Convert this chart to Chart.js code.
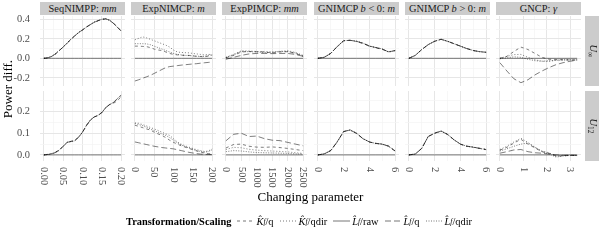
<!DOCTYPE html>
<html>
<head>
<meta charset="utf-8">
<script src="https://cdn.jsdelivr.net/npm/chart.js@4.4.0/dist/chart.umd.min.js"></script>
<style>
  body { margin: 0; background: #fff; font-family: 'Liberation Serif', serif; }
  #wrap { position: relative; width: 600px; height: 240px; overflow: hidden; }
  #wrap canvas { position: absolute; }
  .strip { position: absolute; background: #cccccc; color: #1a1a1a; font-size: 10.4px;
           text-align: center; line-height: 13px; height: 13px; white-space: nowrap; }
  .rstrip { position: absolute; background: #cccccc; color: #1a1a1a; font-size: 10.4px; }
  .rstrip span, .rot span { position: absolute; left: 50%; top: 50%; white-space: nowrap; }
  .rstrip span { transform: translate(-50%, -50%) rotate(90deg); }
  #ytitle { position: absolute; left: 0; top: 16px; width: 16px; height: 145px; font-size: 13px; color: #000; }
  #ytitle span { transform: translate(-50%, -50%) rotate(-90deg); }
  #xtitle { position: absolute; left: 40px; width: 541px; top: 189px; text-align: center; font-size: 13px; }
  #legend { position: absolute; left: 126px; top: 213px; height: 16px; display: flex; align-items: center;
            font-size: 10.4px; white-space: nowrap; }
  #legend b { margin-right: 6px; }
  #legend .item { display: flex; align-items: center; margin-right: 6px; }
  #legend svg { margin-right: 2px; }
  sub { font-size: 7.5px; vertical-align: -2px; }
</style>
</head>
<body>
<div id="wrap"></div>
<script>
// ---- x values per facet column ----
const seqMM   = [0, 0.01, 0.02, 0.03, 0.04, 0.05, 0.06, 0.07, 0.08, 0.09, 0.10, 0.11, 0.12, 0.13, 0.14, 0.15, 0.16, 0.17, 0.18, 0.19, 0.20];
const expM    = [0, 10, 20, 30, 40, 50, 60, 70, 80, 90, 100, 110, 120, 130, 140, 150, 160, 170, 180, 190, 200];
const pimMM   = [0, 250, 500, 750, 1000, 1250, 1500, 1750, 2000, 2250, 2500];
const gniM    = [0, 0.5, 1, 1.5, 2, 2.5, 3, 3.5, 4, 4.5, 5, 5.5, 6];
const gammaG  = [0, 0.3, 0.6, 0.9, 1.2, 1.5, 1.8, 2.1, 2.4, 2.7, 3.0, 3.3];

// ---- L_f/raw is the reference, so its difference is 0 ----
const seqRaw   = [0, 0, 0, 0, 0, 0, 0, 0, 0, 0, 0, 0, 0, 0, 0, 0, 0, 0, 0, 0, 0];
const expRaw   = [0, 0, 0, 0, 0, 0, 0, 0, 0, 0, 0, 0, 0, 0, 0, 0, 0, 0, 0, 0, 0];
const pimRaw   = [0, 0, 0, 0, 0, 0, 0, 0, 0, 0, 0];
const gniRaw   = [0, 0, 0, 0, 0, 0, 0, 0, 0, 0, 0, 0, 0];
const gammaRaw = [0, 0, 0, 0, 0, 0, 0, 0, 0, 0, 0, 0];

// ---- SeqNIMPP ----
const seqInfKq    = [0, 0.004, 0.018, 0.044, 0.079, 0.117, 0.157, 0.194, 0.232, 0.263, 0.292, 0.318, 0.347, 0.368, 0.387, 0.398, 0.404, 0.392, 0.362, 0.322, 0.279];
const seqInfKqdir = [0, 0.006, 0.021, 0.047, 0.082, 0.114, 0.153, 0.197, 0.228, 0.267, 0.289, 0.323, 0.343, 0.372, 0.383, 0.402, 0.407, 0.388, 0.358, 0.318, 0.282];
const seqInfLq    = [0, 0.005, 0.019, 0.045, 0.080, 0.116, 0.154, 0.193, 0.231, 0.264, 0.291, 0.321, 0.346, 0.369, 0.386, 0.399, 0.405, 0.391, 0.360, 0.321, 0.280];
const seqInfLqdir = [0, 0.005, 0.020, 0.046, 0.081, 0.115, 0.156, 0.196, 0.229, 0.266, 0.290, 0.319, 0.344, 0.371, 0.384, 0.401, 0.406, 0.389, 0.359, 0.319, 0.281];
const seq12Kq     = [0, 0.002, 0.006, 0.013, 0.023, 0.041, 0.057, 0.063, 0.067, 0.083, 0.104, 0.136, 0.161, 0.174, 0.183, 0.196, 0.217, 0.233, 0.238, 0.250, 0.268];
const seq12Kqdir  = [0, 0.003, 0.005, 0.012, 0.021, 0.039, 0.059, 0.061, 0.065, 0.081, 0.106, 0.134, 0.159, 0.176, 0.181, 0.194, 0.219, 0.231, 0.243, 0.260, 0.277];
const seq12Lq     = [0, 0.002, 0.004, 0.011, 0.022, 0.040, 0.058, 0.062, 0.066, 0.082, 0.105, 0.135, 0.160, 0.175, 0.182, 0.195, 0.218, 0.232, 0.242, 0.258, 0.275];
const seq12Lqdir  = [0, 0.002, 0.005, 0.012, 0.022, 0.040, 0.058, 0.062, 0.066, 0.082, 0.105, 0.136, 0.160, 0.175, 0.183, 0.196, 0.219, 0.232, 0.242, 0.259, 0.276];

// ---- ExpNIMCP ----
const expInfKq    = [0.125, 0.125, 0.122, 0.120, 0.110, 0.095, 0.085, 0.080, 0.065, 0.050, 0.040, 0.035, 0.032, 0.030, 0.030, 0.025, 0.020, 0.018, 0.016, 0.022, 0.030];
const expInfKqdir = [0.190, 0.205, 0.220, 0.210, 0.195, 0.180, 0.165, 0.150, 0.135, 0.115, 0.085, 0.065, 0.060, 0.058, 0.056, 0.050, 0.045, 0.040, 0.035, 0.040, 0.038];
const expInfLq    = [-0.233, -0.220, -0.205, -0.190, -0.175, -0.155, -0.135, -0.115, -0.095, -0.085, -0.080, -0.075, -0.070, -0.066, -0.062, -0.058, -0.055, -0.050, -0.046, -0.042, -0.038];
const expInfLqdir = [0.150, 0.150, 0.150, 0.148, 0.140, 0.125, 0.110, 0.095, 0.080, 0.065, 0.050, 0.040, 0.035, 0.030, 0.028, 0.025, 0.022, 0.020, 0.020, 0.030, 0.037];
const exp12Kq     = [0.137, 0.132, 0.126, 0.120, 0.115, 0.105, 0.097, 0.090, 0.080, 0.068, 0.058, 0.050, 0.042, 0.036, 0.030, 0.024, 0.018, 0.013, 0.009, 0.006, 0.005];
const exp12Kqdir  = [0.148, 0.146, 0.140, 0.134, 0.127, 0.120, 0.113, 0.105, 0.097, 0.090, 0.075, 0.060, 0.050, 0.042, 0.036, 0.030, 0.024, 0.020, 0.016, 0.018, 0.028];
const exp12Lq     = [0.060, 0.056, 0.052, 0.048, 0.044, 0.040, 0.037, 0.034, 0.032, 0.030, 0.028, 0.024, 0.020, 0.016, 0.012, 0.009, 0.006, 0.004, 0.003, 0.002, 0.002];
const exp12Lqdir  = [0.145, 0.140, 0.135, 0.128, 0.120, 0.112, 0.105, 0.097, 0.090, 0.080, 0.068, 0.056, 0.046, 0.038, 0.032, 0.026, 0.020, 0.016, 0.013, 0.015, 0.024];

// ---- ExpPIMCP ----
const pimInfKq    = [0.005, 0.030, 0.065, 0.070, 0.068, 0.065, 0.055, 0.065, 0.068, 0.050, 0.020];
const pimInfKqdir = [0.010, 0.040, 0.078, 0.075, 0.070, 0.068, 0.065, 0.072, 0.078, 0.060, 0.030];
const pimInfLq    = [-0.010, 0.010, 0.030, 0.045, 0.050, 0.050, 0.048, 0.050, 0.050, 0.040, 0.020];
const pimInfLqdir = [0.008, 0.035, 0.070, 0.068, 0.064, 0.060, 0.062, 0.070, 0.070, 0.055, 0.025];
const pim12Kq     = [0.032, 0.048, 0.050, 0.040, 0.036, 0.035, 0.037, 0.034, 0.030, 0.025, 0.020];
const pim12Kqdir  = [0.025, 0.035, 0.033, 0.026, 0.022, 0.020, 0.018, 0.016, 0.014, 0.010, 0.007];
const pim12Lq     = [0.065, 0.095, 0.100, 0.085, 0.087, 0.075, 0.068, 0.066, 0.058, 0.050, 0.042];
const pim12Lqdir  = [0.015, 0.020, 0.018, 0.014, 0.011, 0.010, 0.009, 0.008, 0.007, 0.005, 0.004];

// ---- GNIMCP b < 0 ----
const gnegInfKq    = [0, 0.012, 0.052, 0.118, 0.178, 0.186, 0.172, 0.152, 0.128, 0.108, 0.092, 0.068, 0.078];
const gnegInfKqdir = [0, 0.010, 0.049, 0.122, 0.182, 0.183, 0.177, 0.157, 0.123, 0.112, 0.097, 0.062, 0.082];
const gnegInfLq    = [0, 0.011, 0.050, 0.120, 0.180, 0.185, 0.174, 0.154, 0.126, 0.110, 0.094, 0.066, 0.079];
const gnegInfLqdir = [0, 0.010, 0.051, 0.121, 0.181, 0.184, 0.176, 0.156, 0.124, 0.111, 0.096, 0.064, 0.081];
const gneg12Kq     = [0, 0.005, 0.021, 0.061, 0.107, 0.116, 0.099, 0.076, 0.059, 0.054, 0.049, 0.041, 0.017];
const gneg12Kqdir  = [0, 0.006, 0.019, 0.059, 0.109, 0.114, 0.101, 0.074, 0.061, 0.052, 0.051, 0.039, 0.019];
const gneg12Lq     = [0, 0.005, 0.020, 0.060, 0.108, 0.115, 0.100, 0.075, 0.060, 0.053, 0.050, 0.040, 0.018];
const gneg12Lqdir  = [0, 0.004, 0.020, 0.060, 0.108, 0.115, 0.100, 0.075, 0.060, 0.053, 0.050, 0.040, 0.018];

// ---- GNIMCP b > 0 ----
const gposInfKq    = [0, 0.031, 0.089, 0.141, 0.174, 0.196, 0.174, 0.151, 0.124, 0.101, 0.079, 0.069, 0.061];
const gposInfKqdir = [0, 0.029, 0.091, 0.139, 0.176, 0.194, 0.176, 0.149, 0.126, 0.099, 0.081, 0.067, 0.063];
const gposInfLq    = [0, 0.030, 0.090, 0.140, 0.175, 0.195, 0.175, 0.150, 0.125, 0.100, 0.080, 0.068, 0.062];
const gposInfLqdir = [0, 0.030, 0.090, 0.140, 0.175, 0.195, 0.175, 0.150, 0.125, 0.100, 0.080, 0.068, 0.062];
const gpos12Kq     = [0, 0.004, 0.031, 0.084, 0.101, 0.111, 0.094, 0.071, 0.049, 0.041, 0.035, 0.031, 0.024];
const gpos12Kqdir  = [0, 0.005, 0.029, 0.086, 0.099, 0.109, 0.096, 0.069, 0.051, 0.039, 0.037, 0.029, 0.026];
const gpos12Lq     = [0, 0.004, 0.030, 0.085, 0.100, 0.110, 0.095, 0.070, 0.050, 0.040, 0.036, 0.030, 0.025];
const gpos12Lqdir  = [0, 0.004, 0.030, 0.085, 0.100, 0.110, 0.095, 0.070, 0.050, 0.040, 0.036, 0.030, 0.025];

// ---- GNCP ----
const gncpInfKq    = [0, 0.020, 0.070, 0.115, 0.090, 0.050, 0.010, -0.010, -0.012, -0.015, -0.018, -0.020];
const gncpInfKqdir = [0, 0.020, 0.038, 0.040, 0.010, -0.015, -0.030, -0.032, -0.020, -0.015, -0.015, -0.015];
const gncpInfLq    = [-0.045, -0.130, -0.210, -0.250, -0.220, -0.170, -0.130, -0.095, -0.065, -0.045, -0.030, -0.020];
const gncpInfLqdir = [-0.005, 0.005, 0.015, 0.010, -0.010, -0.025, -0.030, -0.025, -0.020, -0.018, -0.016, -0.015];
const gncp12Kq     = [0.022, 0.035, 0.055, 0.072, 0.050, 0.032, 0.015, 0.008, -0.005, -0.004, -0.002, -0.003];
const gncp12Kqdir  = [0.025, 0.040, 0.060, 0.077, 0.058, 0.035, 0.018, 0.010, -0.006, -0.003, -0.002, -0.003];
const gncp12Lq     = [0.008, 0.015, 0.023, 0.025, 0.015, 0.010, 0.008, 0.004, 0.000, -0.002, -0.001, -0.002];
const gncp12Lqdir  = [0.018, 0.028, 0.040, 0.050, 0.055, 0.035, 0.015, 0.005, -0.010, -0.005, -0.002, -0.002];

// ---- tick marks / labels ----
const seqTicks = [0, 0.05, 0.1, 0.15, 0.2];          const seqLabels = ['0.00', '0.05', '0.10', '0.15', '0.20'];
const seqMinor = [0.025, 0.075, 0.125, 0.175];
const expTicks = [0, 50, 100, 150, 200];              const expLabels = ['0', '50', '100', '150', '200'];
const expMinor = [25, 75, 125, 175];
const pimTicks = [0, 500, 1000, 1500, 2000, 2500];    const pimLabels = ['0', '500', '1000', '1500', '2000', '2500'];
const pimMinor = [250, 750, 1250, 1750, 2250];
const gniTicks = [0, 2, 4, 6];                        const gniLabels = ['0', '2', '4', '6'];
const gniMinor = [1, 3, 5];
const gammaTicks = [0, 1, 2, 3];                      const gammaLabels = ['0', '1', '2', '3'];
const gammaMinor = [0.5, 1.5, 2.5];
const infYTicks = [-0.2, 0, 0.2, 0.4];                const infYLabels = ['-0.2', '0.0', '0.2', '0.4'];
const infYMinor = [-0.1, 0.1, 0.3];
const u12YTicks = [0, 0.1, 0.2];                      const u12YLabels = ['0.0', '0.1', '0.2'];
const u12YMinor = [0.05, 0.15, 0.25];

const seriesNames = ['K_f/q', 'K_f/qdir', 'L_f/raw', 'L_f/q', 'L_f/qdir'];

// ---- layout ----
const PANEL_W = 85, PANEL_H = 70, PAD = 8;
const colLeft = [40, 131, 222, 314, 405, 496];
const rowTop  = [16, 91];
const rowY    = [[-0.284, 0.434], [-0.028, 0.295]];
const dashes  = [[3, 3], [1, 2], [], [6, 3], [1, 1.5]];
const LINE    = 'rgba(0,0,0,0.68)';
const FONT    = "'Liberation Serif', serif";

const columns = [
  { strip: 'SeqNIMPP: <i>mm</i>', xs: seqMM, raw: seqRaw, major: seqTicks, minor: seqMinor, labels: seqLabels,
    rows: [[seqInfKq, seqInfKqdir, seqInfLq, seqInfLqdir], [seq12Kq, seq12Kqdir, seq12Lq, seq12Lqdir]] },
  { strip: 'ExpNIMCP: <i>m</i>', xs: expM, raw: expRaw, major: expTicks, minor: expMinor, labels: expLabels,
    rows: [[expInfKq, expInfKqdir, expInfLq, expInfLqdir], [exp12Kq, exp12Kqdir, exp12Lq, exp12Lqdir]] },
  { strip: 'ExpPIMCP: <i>mm</i>', xs: pimMM, raw: pimRaw, major: pimTicks, minor: pimMinor, labels: pimLabels,
    rows: [[pimInfKq, pimInfKqdir, pimInfLq, pimInfLqdir], [pim12Kq, pim12Kqdir, pim12Lq, pim12Lqdir]] },
  { strip: 'GNIMCP <i>b</i> &lt; 0: <i>m</i>', xs: gniM, raw: gniRaw, major: gniTicks, minor: gniMinor, labels: gniLabels,
    rows: [[gnegInfKq, gnegInfKqdir, gnegInfLq, gnegInfLqdir], [gneg12Kq, gneg12Kqdir, gneg12Lq, gneg12Lqdir]] },
  { strip: 'GNIMCP <i>b</i> &gt; 0: <i>m</i>', xs: gniM, raw: gniRaw, major: gniTicks, minor: gniMinor, labels: gniLabels,
    rows: [[gposInfKq, gposInfKqdir, gposInfLq, gposInfLqdir], [gpos12Kq, gpos12Kqdir, gpos12Lq, gpos12Lqdir]] },
  { strip: 'GNCP: <i>γ</i>', xs: gammaG, raw: gammaRaw, major: gammaTicks, minor: gammaMinor, labels: gammaLabels,
    rows: [[gncpInfKq, gncpInfKqdir, gncpInfLq, gncpInfLqdir], [gncp12Kq, gncp12Kqdir, gncp12Lq, gncp12Lqdir]] }
];

const wrap = document.getElementById('wrap');

function add_div(cls, style, html) {
  const d = document.createElement('div');
  if (cls) d.className = cls;
  Object.assign(d.style, style);
  d.innerHTML = html;
  wrap.appendChild(d);
  return d;
}

// custom ticks: major + minor, so the minor grid can be lighter
function tick_list(major, minor) {
  return major.map(v => ({ value: v, isMajor: true }))
    .concat(minor.map(v => ({ value: v, isMajor: false })))
    .sort((a, b) => a.value - b.value);
}

function label_for(v, major, labels) {
  const k = major.findIndex(m => Math.abs(m - v) < 1e-9);
  return k >= 0 ? labels[k] : '';
}

// x tick labels turned 90° clockwise, as in the original
function rotated_x_labels(major, labels) {
  return {
    id: 'rotXLabels',
    afterDraw(chart) {
      const sc = chart.scales.x, ctx = chart.ctx;
      ctx.save();
      ctx.font = '10.4px ' + FONT;
      ctx.fillStyle = '#4d4d4d';
      ctx.textAlign = 'left';
      ctx.textBaseline = 'middle';
      major.forEach((v, i) => {
        ctx.save();
        ctx.translate(sc.getPixelForValue(v), chart.chartArea.bottom + 6);
        ctx.rotate(Math.PI / 2);
        ctx.fillText(labels[i], 0, 0);
        ctx.restore();
      });
      ctx.restore();
    }
  };
}

// the invisible tick marks keep the y labels 10px from the panel
function grid_opts(tickLen) {
  return {
    drawTicks: tickLen > 0,
    tickLength: tickLen,
    tickColor: 'rgba(0,0,0,0)',
    color: c => (c.tick && c.tick.isMajor) ? '#e6e6e6' : '#f3f3f3',
    lineWidth: c => (c.tick && c.tick.isMajor) ? 1 : 0.7
  };
}

function render_panel(ci, ri) {
  const col = columns[ci];
  const first = ci === 0, bottom = ri === 1;
  const left = first ? 0 : colLeft[ci];
  const w = first ? colLeft[0] + PANEL_W : PANEL_W;
  const padB = bottom ? 40 : PAD;
  const h = PAD + PANEL_H + padB;

  const canvas = document.createElement('canvas');
  canvas.width = w; canvas.height = h;
  canvas.style.left = left + 'px';
  canvas.style.top = (rowTop[ri] - PAD) + 'px';
  wrap.appendChild(canvas);

  const xs = col.xs;
  const span = xs[xs.length - 1] - xs[0];
  const series = [col.rows[ri][0], col.rows[ri][1], col.raw, col.rows[ri][2], col.rows[ri][3]];
  const yMajor = ri === 0 ? infYTicks : u12YTicks;
  const yMinor = ri === 0 ? infYMinor : u12YMinor;
  const yLabels = ri === 0 ? infYLabels : u12YLabels;

  new Chart(canvas, {
    type: 'line',
    data: {
      datasets: series.map((ys, k) => ({
        label: seriesNames[k],
        data: xs.map((x, i) => ({ x: x, y: ys[i] })),
        borderColor: LINE,
        borderWidth: 0.75,
        borderDash: dashes[k],
        pointRadius: 0,
        tension: 0,
        fill: false
      }))
    },
    options: {
      responsive: false,
      animation: false,
      events: [],
      layout: { autoPadding: false, padding: { left: 0, right: 0, top: PAD, bottom: padB } },
      plugins: { legend: { display: false }, tooltip: { enabled: false } },
      scales: {
        x: {
          type: 'linear',
          min: xs[0] - 0.05 * span,
          max: xs[xs.length - 1] + 0.05 * span,
          border: { display: false },
          ticks: { display: false },
          grid: grid_opts(0),
          afterBuildTicks: s => { s.ticks = tick_list(col.major, col.minor); },
          afterFit: s => { s.height = 0; }
        },
        y: {
          min: rowY[ri][0],
          max: rowY[ri][1],
          border: { display: false },
          ticks: {
            display: first,
            autoSkip: false,
            padding: 0,
            color: '#4d4d4d',
            font: { family: FONT, size: 10.4 },
            callback: v => label_for(v, yMajor, yLabels)
          },
          grid: grid_opts(first ? 10 : 0),
          afterBuildTicks: s => { s.ticks = tick_list(yMajor, yMinor); },
          afterFit: s => { s.width = first ? colLeft[0] : 0; }
        }
      }
    },
    plugins: bottom ? [rotated_x_labels(col.major, col.labels)] : []
  });
}

function render_all() {
  columns.forEach((col, ci) => {
    render_panel(ci, 0);
    render_panel(ci, 1);
    add_div('strip', { left: colLeft[ci] + 'px', top: '2px', width: PANEL_W + 'px' }, col.strip);
  });

  // row strips on the right
  add_div('rstrip', { left: '585px', top: rowTop[0] + 'px', width: '14px', height: PANEL_H + 'px' },
    '<span><i>U</i><sub>∞</sub></span>');
  add_div('rstrip', { left: '585px', top: rowTop[1] + 'px', width: '14px', height: PANEL_H + 'px' },
    '<span><i>U</i><sub>12</sub></span>');

  add_div('rot', {}, '<span>Power diff.</span>').id = 'ytitle';
  add_div('', {}, 'Changing parameter').id = 'xtitle';

  // legend
  const keyNames = ['<i>K&#770;</i><sub><i>f</i></sub>/q', '<i>K&#770;</i><sub><i>f</i></sub>/qdir',
                    '<i>L&#770;</i><sub><i>f</i></sub>/raw', '<i>L&#770;</i><sub><i>f</i></sub>/q',
                    '<i>L&#770;</i><sub><i>f</i></sub>/qdir'];
  let html = '<b>Transformation/Scaling</b>';
  keyNames.forEach((n, k) => {
    const da = dashes[k].length ? dashes[k].join(',') : 'none';
    html += '<span class="item"><svg width="17" height="8"><line x1="0" y1="4" x2="17" y2="4" stroke="' + LINE +
            '" stroke-width="0.8" stroke-dasharray="' + da + '"/></svg>' + n + '</span>';
  });
  add_div('', {}, html).id = 'legend';
}

document.addEventListener('DOMContentLoaded', render_all);
</script>
</body>
</html>
